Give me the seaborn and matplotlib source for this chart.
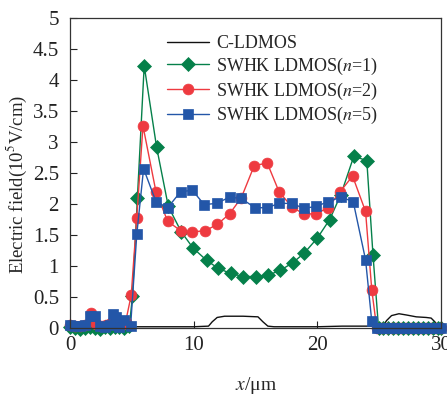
import matplotlib
matplotlib.use("Agg")
import matplotlib.pyplot as plt
import seaborn as sns
import pandas as pd

# ---------------- data ----------------
c_x = [0, 2, 4, 6, 8, 10, 11.2, 11.5, 11.9, 12.5, 14, 15.2, 15.6, 16.0, 16.5, 18, 20, 22, 24,
       25.3, 25.6, 26.0, 26.6, 27.2, 28.0, 28.8, 29.2, 29.5, 29.8, 30]
c_y = [0.02, 0.02, 0.02, 0.02, 0.02, 0.02, 0.03, 0.10, 0.17, 0.19, 0.19, 0.18, 0.10, 0.03, 0.02, 0.02, 0.02, 0.03, 0.03,
       0.03, 0.12, 0.20, 0.23, 0.21, 0.18, 0.17, 0.16, 0.10, 0.02, 0.02]

n1_x = [0, 0.4, 0.8, 1.2, 1.6, 2.0, 2.4, 2.8, 3.2, 3.6, 4.0, 4.4, 4.8, 5.05, 5.45, 6.0, 7.0, 7.95, 9.0, 9.95,
        11.05, 12.0, 13.0, 14.0, 15.0, 16.0, 17.0, 18.0, 18.95, 20.0, 21.0, 21.9, 22.95, 24.0, 24.5, 24.95,
        25.35, 25.75, 26.15, 26.55, 26.95, 27.35, 27.75, 28.15, 28.55, 28.95, 29.35, 29.75, 30.0]
n1_y = [0.02, 0.0, -0.01, 0.0, 0.02, 0.0, -0.01, 0.01, 0.0, 0.02, 0.01, 0.0, 0.03, 0.51, 2.10, 4.23, 2.92, 1.96, 1.55, 1.29,
        1.09, 0.96, 0.88, 0.83, 0.83, 0.85, 0.93, 1.05, 1.21, 1.45, 1.75, 2.15, 2.77, 2.70, 1.18, 0.0,
        0.0, 0.0, 0.0, 0.0, 0.0, 0.0, 0.0, 0.0, 0.0, 0.0, 0.0, 0.0, 0.0]

n2_x = [0, 0.4, 0.8, 1.2, 1.7, 2.1, 2.5, 2.9, 3.3, 3.7, 4.1, 4.5, 4.95, 5.4, 5.9, 6.95, 7.9, 8.95, 9.9,
        10.95, 11.9, 12.9, 13.85, 14.9, 15.95, 16.9, 17.95, 18.9, 19.9, 20.85, 21.85, 22.85, 23.9, 24.4, 24.8,
        25.2, 25.6, 26.0, 26.4, 26.8, 27.2, 27.6, 28.0, 28.4, 28.8, 29.2, 29.6, 30.0]
n2_y = [0.05, 0.04, 0.03, 0.05, 0.25, 0.06, 0.04, 0.05, 0.08, 0.06, 0.05, 0.10, 0.53, 1.78, 3.26, 2.20, 1.72, 1.57, 1.55,
        1.57, 1.67, 1.84, 2.10, 2.62, 2.66, 2.20, 1.95, 1.84, 1.84, 1.94, 2.20, 2.45, 1.88, 0.62, 0.0,
        0.0, 0.0, 0.0, 0.0, 0.0, 0.0, 0.0, 0.0, 0.0, 0.0, 0.0, 0.0, 0.0]

n5_x = [0, 0.4, 0.8, 1.2, 1.65, 2.05, 2.4, 2.8, 3.2, 3.45, 3.7, 4.0, 4.4, 4.9, 5.4, 5.95, 6.95, 7.9, 8.95, 9.9,
        10.85, 11.85, 12.9, 13.85, 14.95, 15.95, 16.9, 17.95, 18.9, 19.9, 20.9, 21.9, 22.9, 23.9, 24.4, 24.8,
        25.15, 25.5, 25.85, 26.2, 26.55, 26.9, 27.25, 27.6, 27.95, 28.3, 28.65, 29.0, 29.35, 29.7, 30.0]
n5_y = [0.05, 0.04, 0.03, 0.05, 0.20, 0.19, 0.03, 0.02, 0.05, 0.22, 0.17, 0.02, 0.13, 0.03, 1.51, 2.57, 2.04, 1.94, 2.20, 2.22,
        1.99, 2.01, 2.11, 2.09, 1.94, 1.94, 2.01, 2.01, 1.93, 1.96, 2.04, 2.11, 2.04, 1.10, 0.11, 0.0,
        0.0, 0.0, 0.0, 0.0, 0.0, 0.0, 0.0, 0.0, 0.0, 0.0, 0.0, 0.0, 0.0, 0.0, 0.0]

labels = ["C-LDMOS", "SWHK LDMOS($n$=1)", "SWHK LDMOS($n$=2)", "SWHK LDMOS($n$=5)"]
y_ticks = [0, 0.5, 1, 1.5, 2, 2.5, 3, 3.5, 4, 4.5, 5]
y_ticklabels = ["0", "0.5", "1", "1.5", "2", "2.5", "3", "3.5", "4", "4.5", "5"]
x_ticks = [0, 10, 20, 30]
x_ticklabels = ["0", "10", "20", "30"]

# ---------------- style ----------------
sns.set_style("ticks")
plt.rcParams["font.family"] = ["Liberation Serif", "DejaVu Serif"]
plt.rcParams["mathtext.fontset"] = "stix"
plt.rcParams["xtick.direction"] = "in"
plt.rcParams["ytick.direction"] = "in"

fig = plt.figure(figsize=(4.47, 3.97), dpi=100)
ax = fig.add_axes([70 / 447, 1 - 328 / 397, 371 / 447, 310 / 397])

green = "#05804a"
red = "#ee3a40"
blue = "#2356a8"

df_c = pd.DataFrame({"x": c_x, "y": c_y})
df1 = pd.DataFrame({"x": n1_x, "y": n1_y})
df2 = pd.DataFrame({"x": n2_x, "y": n2_y})
df5 = pd.DataFrame({"x": n5_x, "y": n5_y})

sns.lineplot(data=df_c, x="x", y="y", ax=ax, color="#111111", lw=1.0, sort=False,
             label=labels[0], estimator=None)
sns.lineplot(data=df1, x="x", y="y", ax=ax, color=green, lw=1.0, marker="D", markersize=6.8,
             markeredgewidth=0.5, markeredgecolor=green, sort=False, label=labels[1], estimator=None,
             clip_on=False)
sns.lineplot(data=df2, x="x", y="y", ax=ax, color=red, lw=1.0, marker="o", markersize=7.8,
             markeredgewidth=0.5, markeredgecolor=red, sort=False, label=labels[2], estimator=None,
             clip_on=False)
sns.lineplot(data=df5, x="x", y="y", ax=ax, color=blue, lw=1.0, marker="s", markersize=7.2,
             markeredgewidth=0.5, markeredgecolor=blue, sort=False, label=labels[3], estimator=None,
             clip_on=False)

ax.set_xlim(0, 30)
ax.set_ylim(0, 5)
ax.set_xticks(x_ticks)
ax.set_xticklabels(x_ticklabels)
ax.set_yticks(y_ticks)
ax.set_yticklabels(y_ticklabels)
ax.tick_params(axis="both", labelsize=15, length=5, width=0.8, colors="#222222")
ax.tick_params(axis="y", pad=8)
ax.tick_params(axis="x", pad=6)
for s in ax.spines.values():
    s.set_visible(True)
    s.set_linewidth(0.9)
    s.set_color("#333333")

ax.set_xlabel("$x$/μm", fontsize=14, labelpad=14)
ax.set_ylabel("Electric field(10$^5$V/cm)", fontsize=13.5, labelpad=2.5)
ax.yaxis.label.set_y(0.463)

leg = ax.legend(loc="upper left", bbox_to_anchor=(0.262, 0.945), frameon=False, fontsize=13,
                handlelength=2.3, handletextpad=0.4, labelspacing=0.2, borderpad=0, borderaxespad=0)

fig.savefig("out.png", dpi=100, facecolor="white")
